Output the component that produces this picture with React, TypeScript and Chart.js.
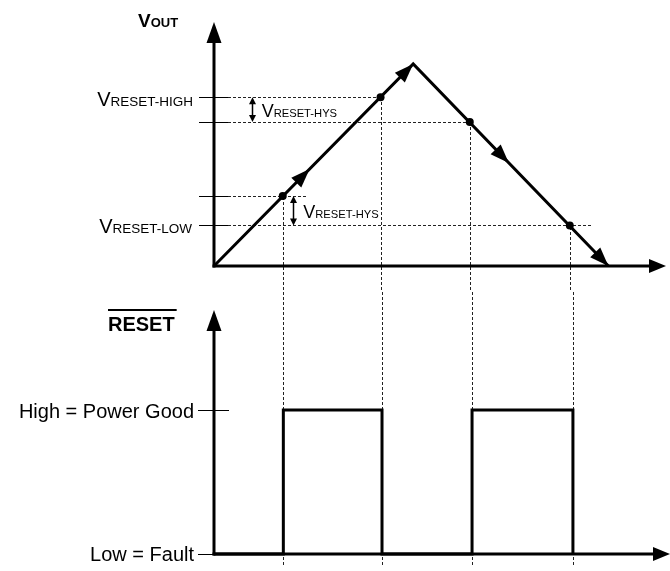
import { useEffect, useRef } from "react";
import { Chart, registerables } from "chart.js";

Chart.register(...registerables);

// ---- data (arbitrary time / voltage units) ----
const timeAxisMax = 22.69;
const voutAxisMax = 12.08;
const resetAxisMax = 1.694;

const rampTimes = [0, 10, 19.8];
const rampVolts = [0, 10, 0];

const crossingTimes = [3.45, 8.36, 12.84, 17.86];
const crossingVolts = [3.47, 8.35, 7.13, 2.01];

const guideLevels = [8.35, 7.13, 3.47, 2.01];
const guideEndTimes = [8.36, 12.84, 4.7, 18.96];

const hysArrowTimes = [1.89, 3.98];
const hysTop = [8.35, 3.47];
const hysBottom = [7.13, 2.01];

// arrowheads along the ramp: [segment index, fraction along segment]
const rampArrowSegments = [0, 0, 1, 1];
const rampArrowFractions = [0.48, 1.0, 0.49, 1.0];

const resetTimes = [0, 3.45, 8.36, 12.84, 17.86];
const resetLevels = [0, 1, 0, 1, 0];

const FONT = '"Liberation Sans", Arial, Helvetica, sans-serif';
const DASH = [3, 2];

function line(ctx: CanvasRenderingContext2D, x1: number, y1: number, x2: number, y2: number) {
  ctx.beginPath();
  ctx.moveTo(x1, y1);
  ctx.lineTo(x2, y2);
  ctx.stroke();
}

function arrowHead(ctx: CanvasRenderingContext2D, tx: number, ty: number, dx: number, dy: number, len: number, half: number) {
  const l = Math.hypot(dx, dy);
  const ux = dx / l, uy = dy / l;
  const bx = tx - ux * len, by = ty - uy * len;
  ctx.beginPath();
  ctx.moveTo(tx, ty);
  ctx.lineTo(bx - uy * half, by + ux * half);
  ctx.lineTo(bx + uy * half, by - ux * half);
  ctx.closePath();
  ctx.fill();
}

function subLabel(
  ctx: CanvasRenderingContext2D, main: string, sub: string, x: number, base: number,
  align: "left" | "right", mainFont: string, subFont: string
) {
  ctx.textAlign = "left";
  ctx.textBaseline = "alphabetic";
  ctx.font = mainFont;
  const wm = ctx.measureText(main).width;
  ctx.font = subFont;
  const ws = ctx.measureText(sub).width;
  const start = align === "left" ? x : x - wm - ws;
  ctx.font = mainFont;
  ctx.fillText(main, start, base);
  ctx.font = subFont;
  ctx.fillText(sub, start + wm, base);
}

function drawAxes(chart: any, xMaxVal: number, yMaxVal: number) {
  const { ctx } = chart;
  const xs = chart.scales.x, ys = chart.scales.y;
  const x0 = xs.getPixelForValue(0), y0 = ys.getPixelForValue(0);
  const tipX = xs.getPixelForValue(xMaxVal), tipY = ys.getPixelForValue(yMaxVal);
  ctx.save();
  ctx.strokeStyle = "#000";
  ctx.fillStyle = "#000";
  ctx.lineWidth = 3;
  ctx.setLineDash([]);
  line(ctx, x0, y0 + 1.5, x0, tipY + 18);
  arrowHead(ctx, x0, tipY, 0, -1, 21, 7.5);
  line(ctx, x0 - 1.5, y0, tipX - 15, y0);
  arrowHead(ctx, tipX, y0, 1, 0, 17, 7);
  ctx.restore();
}

const topPlugin = {
  id: "voutDecor",
  beforeDatasetsDraw(chart: any) {
    const { ctx } = chart;
    const xs = chart.scales.x, ys = chart.scales.y;
    const x0 = xs.getPixelForValue(0);
    ctx.save();
    guideLevels.forEach((lv, i) => {
      const py = Math.round(ys.getPixelForValue(lv)) + 0.5;
      ctx.lineWidth = 1;
      ctx.strokeStyle = "#000";
      ctx.setLineDash([]);
      line(ctx, x0 - 15, py, x0 + 14, py);
      ctx.strokeStyle = "#222";
      ctx.setLineDash(DASH);
      line(ctx, x0 + 14, py, xs.getPixelForValue(guideEndTimes[i]), py);
    });
    crossingTimes.forEach((t, i) => {
      const px = Math.round(xs.getPixelForValue(t)) + 0.5;
      ctx.strokeStyle = "#222";
      ctx.lineWidth = 1;
      ctx.setLineDash(DASH);
      ctx.lineDashOffset = 0;
      // drawn upward from the canvas edge so the dash phase continues into the lower chart
      line(ctx, px, chart.height, px, ys.getPixelForValue(crossingVolts[i]));
    });
    ctx.restore();
  },
  afterDatasetsDraw(chart: any) {
    const { ctx } = chart;
    const xs = chart.scales.x, ys = chart.scales.y;
    drawAxes(chart, timeAxisMax, voutAxisMax);
    const x0 = xs.getPixelForValue(0);
    const tipY = ys.getPixelForValue(voutAxisMax);
    ctx.save();
    ctx.fillStyle = "#000";
    ctx.strokeStyle = "#000";
    rampArrowSegments.forEach((s, i) => {
      const ax = xs.getPixelForValue(rampTimes[s]), ay = ys.getPixelForValue(rampVolts[s]);
      const bx = xs.getPixelForValue(rampTimes[s + 1]), by = ys.getPixelForValue(rampVolts[s + 1]);
      const f = rampArrowFractions[i];
      arrowHead(ctx, ax + (bx - ax) * f, ay + (by - ay) * f, bx - ax, by - ay, 19, 7);
    });
    hysArrowTimes.forEach((t, i) => {
      const px = Math.round(xs.getPixelForValue(t)) + 0.5;
      const pt = ys.getPixelForValue(hysTop[i]), pb = ys.getPixelForValue(hysBottom[i]);
      ctx.lineWidth = 1.5;
      ctx.setLineDash([]);
      line(ctx, px, pt + 4, px, pb - 4);
      arrowHead(ctx, px, pt, 0, -1, 7, 3.5);
      arrowHead(ctx, px, pb, 0, 1, 7, 3.5);
    });
    const big = `20px ${FONT}`;
    const small = `13.5px ${FONT}`;
    subLabel(ctx, "V", "RESET-HIGH", x0 - 21, ys.getPixelForValue(guideLevels[0]) + 8.7, "right", big, small);
    subLabel(ctx, "V", "RESET-LOW", x0 - 22, ys.getPixelForValue(guideLevels[3]) + 8, "right", big, small);
    hysArrowTimes.forEach((t, i) => {
      const px = xs.getPixelForValue(t);
      const mid = (ys.getPixelForValue(hysTop[i]) + ys.getPixelForValue(hysBottom[i])) / 2;
      subLabel(ctx, "V", "RESET-HYS", px + 10, mid + 7.5, "left", `18px ${FONT}`, `11.2px ${FONT}`);
    });
    subLabel(ctx, "V", "OUT", x0 - 76, tipY + 5, "left", `bold 19px ${FONT}`, `bold 13px ${FONT}`);
    ctx.restore();
  },
};

const bottomPlugin = {
  id: "resetDecor",
  beforeDatasetsDraw(chart: any) {
    const { ctx } = chart;
    const xs = chart.scales.x, ys = chart.scales.y;
    const y0 = ys.getPixelForValue(0);
    ctx.save();
    ctx.strokeStyle = "#222";
    ctx.lineWidth = 1;
    ctx.setLineDash(DASH);
    ctx.lineDashOffset = DASH[0];
    crossingTimes.forEach((t) => {
      const px = Math.round(xs.getPixelForValue(t)) + 0.5;
      line(ctx, px, 0, px, y0 + 13);
    });
    ctx.restore();
  },
  afterDatasetsDraw(chart: any) {
    const { ctx } = chart;
    const xs = chart.scales.x, ys = chart.scales.y;
    drawAxes(chart, timeAxisMax, resetAxisMax);
    const x0 = xs.getPixelForValue(0);
    const yHigh = Math.round(ys.getPixelForValue(1)) + 0.5;
    const yLow = ys.getPixelForValue(0);
    const tipY = ys.getPixelForValue(resetAxisMax);
    ctx.save();
    ctx.strokeStyle = "#000";
    ctx.fillStyle = "#000";
    ctx.lineWidth = 1;
    ctx.setLineDash([]);
    line(ctx, x0 - 16, yHigh, x0 + 15, yHigh);
    line(ctx, x0 - 16, Math.round(yLow) + 0.5, x0, Math.round(yLow) + 0.5);
    ctx.textBaseline = "alphabetic";
    ctx.textAlign = "right";
    ctx.font = `20px ${FONT}`;
    ctx.fillText("High = Power Good", x0 - 20, yHigh + 7);
    ctx.fillText("Low = Fault", x0 - 20, yLow + 7);
    ctx.textAlign = "left";
    ctx.font = `bold 20px ${FONT}`;
    const lx = x0 - 106;
    const w = ctx.measureText("RESET").width;
    ctx.fillText("RESET", lx, tipY + 21);
    ctx.lineWidth = 2;
    line(ctx, lx, tipY, lx + w + 2, tipY);
    ctx.restore();
  },
};

export default function App() {
  const topRef = useRef<HTMLCanvasElement>(null);
  const botRef = useRef<HTMLCanvasElement>(null);

  useEffect(() => {
    const common = {
      responsive: false,
      animation: false as const,
      events: [] as any[],
      plugins: { legend: { display: false }, tooltip: { enabled: false } },
    };
    const top = new Chart(topRef.current!, {
      type: "scatter",
      data: {
        datasets: [
          {
            data: rampTimes.map((t, i) => ({ x: t, y: rampVolts[i] })),
            showLine: true,
            borderColor: "#000",
            borderWidth: 3,
            pointRadius: 0,
            borderJoinStyle: "miter",
            clip: false,
          },
          {
            data: crossingTimes.map((t, i) => ({ x: t, y: crossingVolts[i] })),
            showLine: false,
            pointRadius: 4,
            pointBackgroundColor: "#000",
            pointBorderWidth: 0,
            clip: false,
          },
        ],
      },
      options: {
        ...common,
        layout: { padding: { left: 214, right: 0, top: 22, bottom: 24 } },
        scales: {
          x: { type: "linear", min: 0, max: timeAxisMax, display: false },
          y: { type: "linear", min: 0, max: voutAxisMax, display: false },
        },
      },
      plugins: [topPlugin],
    } as any);

    const bottom = new Chart(botRef.current!, {
      type: "scatter",
      data: {
        datasets: [
          {
            data: resetTimes.map((t, i) => ({ x: t, y: resetLevels[i] })),
            showLine: true,
            stepped: true,
            borderColor: "#000",
            borderWidth: 3,
            pointRadius: 0,
            borderJoinStyle: "miter",
            clip: false,
          },
        ],
      },
      options: {
        ...common,
        layout: { padding: { left: 214, right: 0, top: 20, bottom: 17 } },
        scales: {
          x: { type: "linear", min: 0, max: timeAxisMax, display: false },
          y: { type: "linear", min: 0, max: resetAxisMax, display: false },
        },
      },
      plugins: [bottomPlugin],
    } as any);

    return () => {
      top.destroy();
      bottom.destroy();
    };
  }, []);

  return (
    <div style={{ position: "absolute", left: 0, top: 0, width: 670, height: 571, background: "#fff" }}>
      <canvas ref={topRef} width={670} height={290} style={{ display: "block" }} />
      <canvas ref={botRef} width={670} height={281} style={{ display: "block" }} />
    </div>
  );
}
